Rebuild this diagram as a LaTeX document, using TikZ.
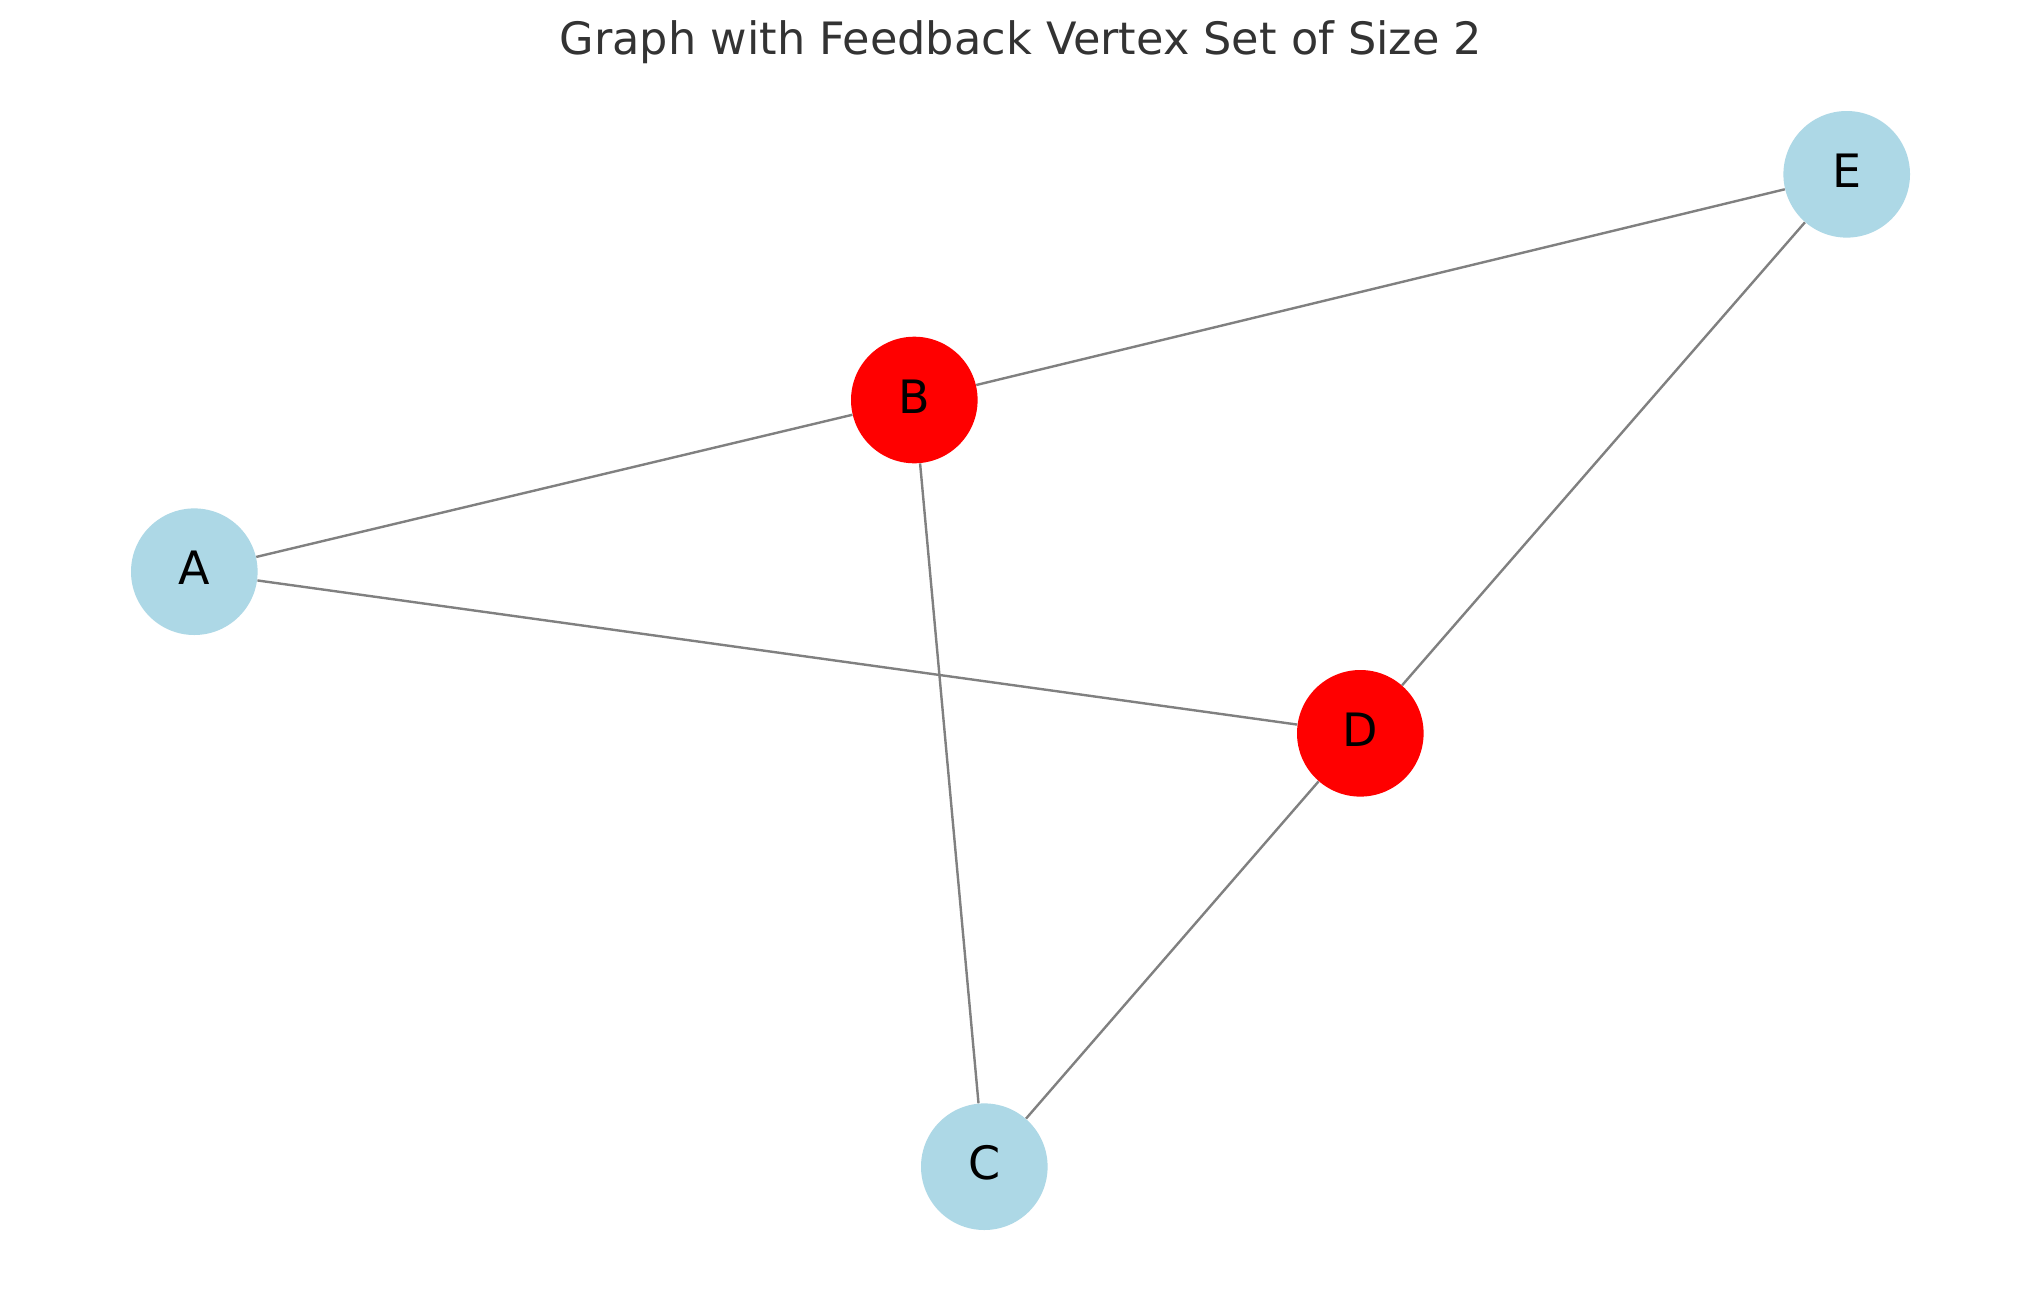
\documentclass[tikz,border=0pt]{standalone}
\usepackage{fontspec}
\setmainfont{DejaVu Sans}
\definecolor{lblue}{HTML}{ADD8E6}
\definecolor{edgegray}{HTML}{808080}
\definecolor{titlegray}{HTML}{333333}
\tikzset{
  vtx/.style={circle, minimum size=63.3pt, inner sep=0pt, draw=none},
  fvs/.style={vtx, fill=red},
  plain/.style={vtx, fill=lblue},
  vlabel/.style={font=\fontsize{23}{27}\selectfont, text=black, inner sep=0pt, yshift=1.85pt},
  edge/.style={draw=edgegray, line width=1.2pt},
  titletext/.style={font=\fontsize{22.3}{27}\selectfont, text=titlegray, inner sep=0pt, anchor=base}
}
\begin{document}
\begin{tikzpicture}[x=0.5pt,y=-0.5pt]
\useasboundingbox (0,0) rectangle (2039,1290);
\fill[white] (0,0) rectangle (2039,1290);
\node[titletext] (title) at (1021,54.5) {Graph with Feedback Vertex Set of Size 2};
\node[plain] (A) at (194.3,571.7) {};
\node[fvs]   (B) at (914.3,400.0) {};
\node[plain] (C) at (984.3,1166.7) {};
\node[fvs]   (D) at (1360.3,733.3) {};
\node[plain] (E) at (1846.7,174.3) {};
\draw[edge] (A) -- (B);
\draw[edge] (A) -- (D);
\draw[edge] (B) -- (E);
\draw[edge] (B) -- (C);
\draw[edge] (D) -- (E);
\draw[edge] (D) -- (C);
\node[vlabel] (lA) at (A) {A};
\node[vlabel] (lB) at (B) {B};
\node[vlabel] (lC) at (C) {C};
\node[vlabel] (lD) at (D) {D};
\node[vlabel] (lE) at (E) {E};
\end{tikzpicture}
\end{document}
